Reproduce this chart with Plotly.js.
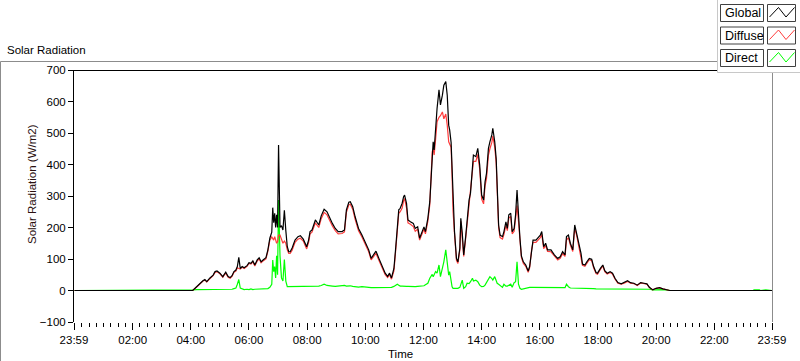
<!DOCTYPE html>
<html>
<head>
<meta charset="utf-8">
<script src="https://cdn.plot.ly/plotly-3.0.1.min.js"></script>
<style>html,body{margin:0;padding:0;background:#fff;}#chart{width:800px;height:361px;}</style>
</head>
<body>
<div id="chart"></div>
<script>
// ---- data ----
const time = ["00:00","03:43","04:04","04:12","04:19","04:25","04:29","04:33","04:39","04:46","04:50","04:54","05:00","05:06","05:08","05:12","05:17","05:21","05:25","05:29","05:33","05:36","05:39","05:42","05:46","05:50","05:56","06:00","06:04","06:08","06:12","06:17","06:21","06:25","06:29","06:35","06:39","06:43","06:47","06:49","06:51","06:53","06:55","06:57","06:59","07:01","07:04","07:07","07:10","07:13","07:16","07:19","07:22","07:25","07:29","07:35","07:41","07:46","07:52","07:59","08:03","08:06","08:10","08:17","08:21","08:24","08:29","08:35","08:41","08:46","08:52","08:58","09:04","09:12","09:17","09:21","09:26","09:29","09:34","09:39","09:46","09:53","10:00","10:07","10:12","10:17","10:22","10:28","10:35","10:41","10:46","10:50","10:54","10:59","11:02","11:06","11:09","11:12","11:16","11:19","11:21","11:25","11:28","11:33","11:39","11:43","11:48","11:52","11:57","12:01","12:04","12:09","12:13","12:16","12:18","12:20","12:22","12:25","12:28","12:32","12:35","12:39","12:42","12:46","12:49","12:52","12:54","12:57","12:59","13:01","13:04","13:08","13:11","13:15","13:17","13:20","13:23","13:27","13:30","13:34","13:37","13:41","13:43","13:48","13:52","13:56","14:00","14:04","14:07","14:10","14:14","14:17","14:21","14:23","14:27","14:30","14:32","14:35","14:38","14:43","14:46","14:50","14:53","14:56","15:00","15:03","15:07","15:10","15:13","15:16","15:19","15:22","15:26","15:31","15:36","15:39","15:43","15:46","15:52","15:55","16:01","16:04","16:08","16:12","16:16","16:23","16:30","16:37","16:42","16:47","16:52","16:55","16:59","17:03","17:08","17:12","17:16","17:20","17:25","17:28","17:33","17:37","17:42","17:47","17:51","17:56","17:59","18:05","18:10","18:14","18:19","18:25","18:30","18:35","18:41","18:48","18:54","19:01","19:07","19:14","19:21","19:28","19:35","19:41","19:46","19:53","20:00","20:07","20:14","20:21","20:28","23:20","23:22","23:33","23:35","23:46","23:58","23:59"];
const globalRad = [0,0,0,12,23,31,35,28,39,49,60,62,55,44,49,58,44,41,47,60,65,76,105,70,76,72,79,88,86,94,81,97,104,91,97,104,129,166,185,263,215,245,200,240,200,462,200,206,192,255,190,139,123,123,135,160,171,174,163,139,160,187,192,224,215,208,237,258,250,232,213,197,187,187,192,256,280,282,266,234,197,176,155,129,102,113,125,102,76,55,45,55,40,70,123,197,256,261,277,298,303,277,224,218,213,197,202,166,187,202,187,229,282,377,456,472,446,520,578,637,589,620,652,663,620,525,510,470,377,261,187,102,91,134,229,182,113,171,218,287,309,380,430,425,451,398,303,287,345,372,451,472,494,515,472,418,324,208,176,171,187,218,197,240,245,187,197,240,319,234,166,110,91,81,62,76,134,160,160,166,176,187,139,150,129,129,113,102,107,123,113,171,176,150,129,208,182,150,118,84,81,91,102,99,76,57,55,70,81,63,55,60,55,39,25,21,25,31,25,23,17,25,23,21,10,2,7,9,5,2,0,0,0,0,0,0,0,0];
const diffuseRad = [0,0,0,11,22,30,33,27,37,47,57,60,53,42,47,55,42,39,45,58,62,72,70,68,74,70,77,86,84,91,78,94,100,88,94,100,125,160,170,166,160,171,155,150,155,176,176,160,150,157,150,129,118,118,128,153,163,166,157,132,153,180,185,215,207,200,228,248,240,223,205,190,180,181,186,248,272,274,258,226,190,170,148,123,97,108,118,96,71,50,41,50,36,62,115,188,245,250,262,285,292,262,215,210,203,188,195,160,180,195,180,220,272,365,440,450,430,480,536,550,555,567,545,560,525,472,465,455,365,252,180,96,86,128,220,175,108,165,210,275,298,368,410,410,432,385,290,275,332,355,430,450,470,490,455,405,315,200,168,163,178,207,190,230,235,180,188,230,270,220,160,105,86,77,58,72,128,153,153,158,168,178,133,143,124,123,108,97,102,117,108,160,168,144,124,198,175,144,113,80,77,87,98,95,72,54,52,67,78,60,52,57,52,37,23,20,23,29,23,22,16,24,22,20,9,2,7,8,5,2,0,0,0,0,0,0,0,0];
const directRad = [0,0,2,3,3,3,3,3,3,3,3,3,3,3,3,3,3,3,4,6,8,20,35,8,5,3,4,3,5,3,4,4,4,4,5,5,6,10,20,97,60,76,40,110,50,287,110,40,30,98,30,12,12,12,12,12,13,13,12,12,12,12,13,14,14,14,16,20,16,14,14,13,14,15,16,14,16,15,13,12,11,12,10,9,9,9,9,8,8,8,8,9,10,13,15,20,17,14,14,13,13,13,13,12,12,12,13,13,14,15,18,23,39,45,51,44,50,60,55,81,44,70,91,129,76,49,60,20,12,7,7,7,7,10,23,33,7,12,23,22,28,39,30,33,28,17,12,13,17,25,39,44,38,33,44,30,23,20,17,10,20,14,14,16,20,10,25,28,91,20,7,4,6,8,10,10,10,10,10,9,9,9,9,8,8,8,8,8,8,8,9,20,12,8,8,8,8,7,7,7,6,6,6,6,6,5,5,5,5,5,5,5,5,5,4,4,4,4,4,5,3,4,4,4,4,2,3,4,3,2,0,0,2,2,0,2,2,0];
const seriesNames = ["Global","Diffuse","Direct"];
const seriesColors = ["#000000","#ff3c3c","#00ff00"];
const tickVals = [-1,120,240,360,480,600,720,840,960,1080,1200,1320,1439];
const tickText = ["23:59","02:00","04:00","06:00","08:00","10:00","12:00","14:00","16:00","18:00","20:00","22:00","23:59"];

// ---- helpers ----
const toMin = s => { const p = s.split(":"); return (+p[0])*60 + (+p[1]); };
const xs = time.map(toMin);
const L = 74, R = 772, T = 70, B = 322;
const px = x => (x - L) / (R - L);
const py = y => (B - y) / (B - T);
const FONT = "Liberation Sans, Arial, sans-serif";

const traces = [
  {x: xs, y: directRad, name: seriesNames[2], type: "scatter", mode: "lines", line: {color: seriesColors[2], width: 1.2}},
  {x: xs, y: diffuseRad, name: seriesNames[1], type: "scatter", mode: "lines", line: {color: seriesColors[1], width: 1.2}},
  {x: xs, y: globalRad, name: seriesNames[0], type: "scatter", mode: "lines", line: {color: seriesColors[0], width: 1.2}}
];

const shapes = [];
const line = (x0, y0, x1, y1, color) => shapes.push({type: "line", xref: "paper", yref: "paper", x0: px(x0), y0: py(y0), x1: px(x1), y1: py(y1), line: {color: color, width: 1}});
const rect = (x0, y0, x1, y1, color, fill) => shapes.push({type: "rect", xref: "paper", yref: "paper", x0: px(x0), y0: py(y0), x1: px(x1), y1: py(y1), line: {color: color, width: 1}, fillcolor: fill || "rgba(0,0,0,0)"});

// outer frame
line(0.5, 61.5, 717, 61.5, "#8c8c8c");
line(0.5, 61.5, 0.5, 361, "#8c8c8c");
// plot frame
line(73.5, 70.5, 772.5, 70.5, "#000000");
line(772.5, 70.5, 772.5, 322, "#8c8c8c");
// legend panel
rect(717.5, -2, 802, 72.5, "#c8c8c8", "#ffffff");
const annotations = [];
seriesNames.forEach((n, i) => {
  const top = 4.5 + i * 22.5;
  rect(720.5, top, 763.5, top + 17, "#404040", "#ffffff");
  rect(767.5, top, 795.5, top + 17, "#404040", "#ffffff");
  shapes.push({type: "path", xref: "paper", yref: "paper",
    path: "M" + px(769.5) + "," + py(top + 12.5) + " L" + px(778.5) + "," + py(top + 3) + " L" + px(786) + "," + py(top + 12.5) + " L" + px(794.5) + "," + py(top + 3),
    line: {color: seriesColors[i], width: 1}});
  annotations.push({xref: "paper", yref: "paper", x: px(723), y: py(top + 8.8), xanchor: "left", yanchor: "middle", text: n, showarrow: false, font: {family: FONT, size: 12.5, color: "#000"}});
});

annotations.push({xref: "paper", yref: "paper", x: px(5), y: py(50), xanchor: "left", yanchor: "middle", text: "Solar Radiation", showarrow: false, font: {family: FONT, size: 11.5, color: "#000"}});
annotations.push({xref: "paper", yref: "paper", x: px(32), y: py(184), xanchor: "center", yanchor: "middle", textangle: -90, text: "Solar Radiation (W/m2)", showarrow: false, font: {family: FONT, size: 11.5, color: "#2a1010"}});
annotations.push({xref: "paper", yref: "paper", x: px(400), y: py(354), xanchor: "center", yanchor: "middle", text: "Time", showarrow: false, font: {family: FONT, size: 11.5, color: "#000"}});

const layout = {
  width: 800, height: 361, autosize: false,
  margin: {l: L, r: 800 - R, t: T, b: 361 - B, pad: 0},
  paper_bgcolor: "#ffffff", plot_bgcolor: "#ffffff",
  showlegend: false,
  font: {family: FONT, size: 11, color: "#000"},
  xaxis: {
    range: [-1, 1439], tickmode: "array", tickvals: tickVals, ticktext: tickText,
    ticks: "outside", ticklen: 7, tickwidth: 1, tickcolor: "#000",
    showgrid: false, zeroline: false, showline: false,
    tickfont: {family: FONT, size: 11.5, color: "#000"},
    minor: {tickmode: "linear", tick0: 0, dtick: 15, ticks: "outside", ticklen: 4, tickcolor: "#000", showgrid: false}
  },
  yaxis: {
    range: [-100, 700], tickmode: "linear", tick0: 0, dtick: 100,
    ticks: "outside", ticklen: 5, tickwidth: 1, tickcolor: "#000",
    showgrid: false, zeroline: false, showline: true, linecolor: "#000", linewidth: 1,
    tickfont: {family: FONT, size: 11.5, color: "#000"}
  },
  shapes: shapes,
  annotations: annotations
};

Plotly.newPlot("chart", traces, layout, {displayModeBar: false, staticPlot: true});
</script>
</body>
</html>
